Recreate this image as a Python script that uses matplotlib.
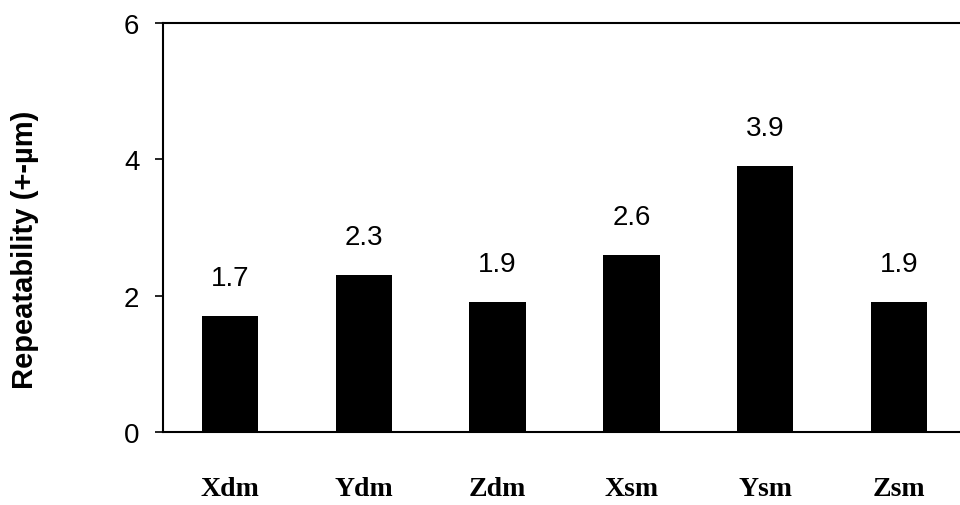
import matplotlib
matplotlib.use("Agg")
import matplotlib.pyplot as plt

# data
categories = ["Xdm", "Ydm", "Zdm", "Xsm", "Ysm", "Zsm"]
repeatability = [1.7, 2.3, 1.9, 2.6, 3.9, 1.9]
y_ticks = [0, 2, 4, 6]

fig = plt.figure(figsize=(9.6, 5.06), dpi=100)
ax = fig.add_axes([163 / 960, 1 - 433 / 506, (966 - 163) / 960, (433 - 24) / 506])

x = range(len(categories))
ax.bar(x, repeatability, width=0.42, color="black")

# value labels above each bar
for xi, v in zip(x, repeatability):
    ax.annotate(f"{v:.1f}", (xi, v), xytext=(0, 18), textcoords="offset points",
                ha="center", va="bottom", fontsize=20, family="Liberation Sans")

ax.set_xlim(-0.5, 5.5)
ax.set_ylim(0, 6)
ax.set_yticks(y_ticks)
ax.set_yticklabels([str(t) for t in y_ticks], fontsize=20, family="Liberation Sans")
ax.tick_params(axis="y", length=6, width=1.2, pad=11)
ax.set_xticks(list(x))
ax.set_xticklabels(categories, fontsize=20, fontweight="bold", family="Liberation Serif")
ax.tick_params(axis="x", length=0, pad=32)

for s in ["left", "top", "bottom"]:
    ax.spines[s].set_linewidth(1.5)
ax.spines["right"].set_visible(False)

ax.set_ylabel("Repeatability (+-µm)", fontsize=21, fontweight="bold",
              family="Liberation Sans")
ax.yaxis.set_label_coords(-(163 - 39) / 803, (433 - 250) / 409)

fig.savefig("out.png", dpi=100)
